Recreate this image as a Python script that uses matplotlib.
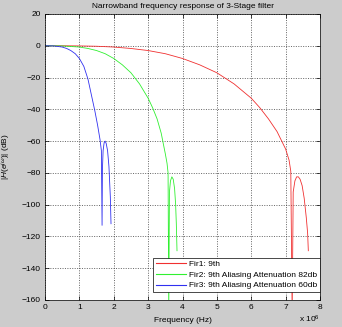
import matplotlib
matplotlib.use('Agg')
import matplotlib.pyplot as plt

# 频率 (MHz) 与幅度 (dB)
f1 = [0, 0.5, 1, 1.5, 2, 2.5, 3, 3.5, 4, 4.5, 5, 5.5, 6, 6.25, 6.5, 6.75, 7.0,
      7.1, 7.15, 7.19, 7.22, 7.27, 7.32, 7.37, 7.42, 7.48, 7.54, 7.6, 7.64, 7.66]
h1 = [0, 0, -0.1, -0.3, -0.8, -1.7, -3, -5, -8, -12, -17, -24, -33, -39, -46,
      -54, -65, -72, -79, -170, -92, -85, -82.5, -82.5, -84, -88, -96, -108,
      -118, -129]

f2 = [0, 0.5, 1, 1.25, 1.5, 1.75, 2, 2.25, 2.5, 2.75, 3, 3.13, 3.26, 3.38,
      3.5, 3.55, 3.58, 3.6, 3.62, 3.65, 3.69, 3.73, 3.77, 3.8, 3.82, 3.84]
h2 = [0, -0.1, -0.8, -1.7, -3, -5, -8, -12, -17, -24, -33, -39, -46, -55,
      -68, -74, -80, -170, -92, -85, -82.5, -84, -90, -100, -112, -129]

f3 = [0, 0.25, 0.5, 0.63, 0.75, 0.88, 1.0, 1.13, 1.25, 1.31, 1.38, 1.45,
      1.53, 1.6, 1.64, 1.66, 1.67, 1.69, 1.72, 1.75, 1.78, 1.82, 1.86, 1.9, 1.92]
h3 = [0, -0.1, -0.8, -1.7, -3, -5, -8, -13, -21, -27, -34, -41,
      -50, -59, -66, -113, -78, -66, -61, -60, -61.5, -66, -76, -95, -112]

labels = ['Fir1: 9th',
          'Fir2: 9th Aliasing Attenuation 82db',
          'Fir3: 9th Aliasing Attenuation 60db']

fs = 6.0
plt.rcParams['font.family'] = ['Liberation Sans', 'DejaVu Sans']
plt.rcParams['font.size'] = fs
plt.rcParams['mathtext.fontset'] = 'custom'
plt.rcParams['mathtext.rm'] = 'Liberation Sans'
plt.rcParams['mathtext.it'] = 'Liberation Sans:italic'

fig = plt.figure(figsize=(3.42, 3.27), dpi=100, facecolor='#cccccc')
ax = fig.add_axes([0.1316, 0.0826, 0.8041, 0.8746])

ax.plot(f1, h1, color='#f03030', linewidth=0.6, label=labels[0])
ax.plot(f2, h2, color='#30f030', linewidth=0.6, label=labels[1])
ax.plot(f3, h3, color='#3030f0', linewidth=0.6, label=labels[2])

ax.set_xlim(0, 8)
ax.set_ylim(-160, 20)
ax.set_xticks(range(0, 9))
ax.set_yticks(range(-160, 21, 20))
ax.grid(True, linestyle=(0, (1.5, 2)), color='#333333', linewidth=0.5)
ax.tick_params(direction='in', length=3, width=0.5, pad=3, labelsize=fs,
               top=True, right=True)
for s in ax.spines.values():
    s.set_linewidth(0.5)

ax.set_title('Narrowband frequency response of 3-Stage filter', fontsize=fs, pad=4)
ax.set_xlabel('Frequency (Hz)', fontsize=fs, labelpad=4)
ax.set_ylabel(r'$|H(e^{j\omega})|$ (dB)', fontsize=fs, labelpad=6)
fig.text(0.935, 0.015, r'x 10$^6$', fontsize=fs, ha='right')

leg = ax.legend(loc='lower right', bbox_to_anchor=(1.0, 0.028), borderaxespad=0,
                fontsize=fs, frameon=True, fancybox=False, framealpha=1,
                edgecolor='black', handlelength=3.6, handletextpad=0.4,
                labelspacing=0.35, borderpad=0.3)
leg.get_frame().set_linewidth(0.5)
for line in leg.get_lines():
    line.set_linewidth(0.8)

fig.savefig('out.png', dpi=100, facecolor=fig.get_facecolor())
